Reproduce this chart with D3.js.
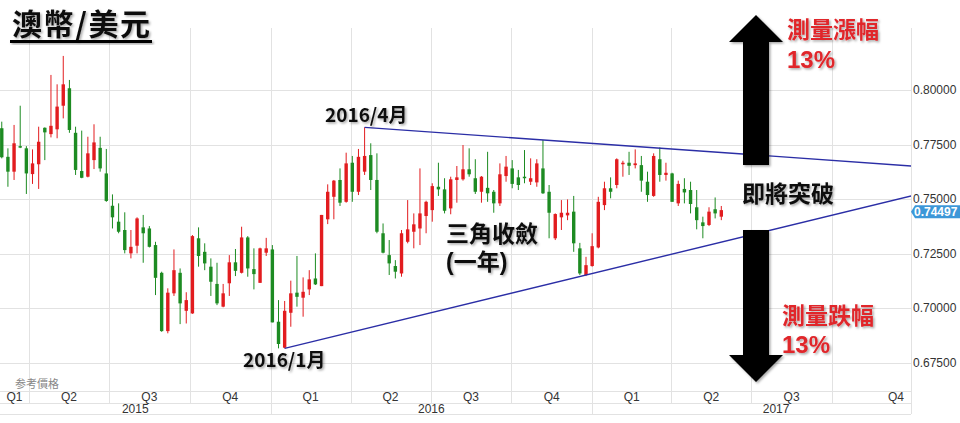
<!DOCTYPE html>
<html>
<head>
<meta charset="utf-8">
<script src="https://cdn.jsdelivr.net/npm/d3@7"></script>
<style>
body { margin: 0; background: #fff; }
text { font-family: "Liberation Sans", Arial, sans-serif; }
.cjk { font-family: "Noto Sans CJK TC", "Noto Sans CJK SC", sans-serif; font-weight: 700; }
.latin { font-family: "Liberation Sans", "Noto Sans CJK TC", sans-serif; font-weight: 700; }
</style>
</head>
<body>
<div id="chart"></div>
<script>
'use strict'

// weekly AUD/USD candles, first week starts 2015-03-01
var firstWeek = new Date(2015, 2, 1);

var openP = [0.7825, 0.7694, 0.7626, 0.7743, 0.7733, 0.7615, 0.7660, 0.7827, 0.7798, 0.7820,
    0.7928, 0.8008, 0.7804, 0.7629, 0.7603, 0.7679, 0.7735, 0.7618, 0.7470, 0.7397,
    0.7359, 0.7252, 0.7287, 0.7371, 0.7366, 0.7290, 0.7163, 0.6896, 0.7069, 0.7163,
    0.6989, 0.6977, 0.7321, 0.7259, 0.7191, 0.7112, 0.7008, 0.7115, 0.7211, 0.7163,
    0.7325, 0.7180, 0.7117, 0.7255, 0.7270, 0.6939, 0.6820, 0.6980, 0.7072, 0.7049,
    0.7087, 0.7137, 0.7102, 0.7408, 0.7511, 0.7588, 0.7488, 0.7667, 0.7534, 0.7626,
    0.7702, 0.7588, 0.7344, 0.7244, 0.7194, 0.7160, 0.7305, 0.7351, 0.7366, 0.7423,
    0.7450, 0.7557, 0.7545, 0.7458, 0.7588, 0.7591, 0.7637, 0.7596, 0.7534, 0.7552,
    0.7534, 0.7481, 0.7606, 0.7641, 0.7600, 0.7603, 0.7580, 0.7577, 0.7641, 0.7534,
    0.7321, 0.7417, 0.7426, 0.7443, 0.7275, 0.7153, 0.7194, 0.7279, 0.7473, 0.7550,
    0.7565, 0.7660, 0.7667, 0.7656, 0.7656, 0.7580, 0.7515, 0.7683, 0.7611, 0.7618,
    0.7481, 0.7547, 0.7542, 0.7463, 0.7394, 0.7382, 0.7454, 0.7420];

var highP = [0.7855, 0.7733, 0.7840, 0.7928, 0.7743, 0.7728, 0.7832, 0.7829, 0.8069, 0.8026,
    0.8156, 0.8046, 0.7832, 0.7814, 0.7786, 0.7843, 0.7786, 0.7730, 0.7522, 0.7481,
    0.7440, 0.7359, 0.7417, 0.7428, 0.7377, 0.7305, 0.7168, 0.7092, 0.7270, 0.7183,
    0.7074, 0.7336, 0.7371, 0.7298, 0.7229, 0.7209, 0.7112, 0.7244, 0.7272, 0.7374,
    0.7331, 0.7275, 0.7278, 0.7323, 0.7290, 0.7038, 0.7034, 0.7127, 0.7240, 0.7142,
    0.7175, 0.7252, 0.7428, 0.7568, 0.7588, 0.7641, 0.7713, 0.7698, 0.7730, 0.7829,
    0.7756, 0.7710, 0.7389, 0.7313, 0.7221, 0.7359, 0.7496, 0.7435, 0.7641, 0.7493,
    0.7573, 0.7667, 0.7596, 0.7603, 0.7652, 0.7748, 0.7733, 0.7683, 0.7606, 0.7717,
    0.7542, 0.7664, 0.7698, 0.7679, 0.7634, 0.7725, 0.7687, 0.7683, 0.7771, 0.7565,
    0.7435, 0.7496, 0.7499, 0.7515, 0.7300, 0.7236, 0.7344, 0.7511, 0.7580, 0.7600,
    0.7687, 0.7676, 0.7717, 0.7728, 0.7698, 0.7626, 0.7710, 0.7737, 0.7667, 0.7621,
    0.7585, 0.7596, 0.7580, 0.7542, 0.7420, 0.7463, 0.7508, 0.7469];

var lowP = [0.7687, 0.7557, 0.7588, 0.7734, 0.7524, 0.7570, 0.7547, 0.7679, 0.7783, 0.7779,
    0.7870, 0.7804, 0.7611, 0.7596, 0.7600, 0.7638, 0.7626, 0.7488, 0.7366, 0.7344,
    0.7252, 0.7229, 0.7252, 0.7209, 0.7279, 0.7061, 0.6893, 0.6886, 0.7057, 0.6928,
    0.6931, 0.6975, 0.7191, 0.7175, 0.7057, 0.7015, 0.7005, 0.7057, 0.7148, 0.7160,
    0.7145, 0.7087, 0.7117, 0.7240, 0.6936, 0.6817, 0.6817, 0.6916, 0.7008, 0.6962,
    0.7061, 0.7107, 0.7102, 0.7386, 0.7408, 0.7469, 0.7484, 0.7488, 0.7519, 0.7611,
    0.7542, 0.7344, 0.7252, 0.7153, 0.7137, 0.7145, 0.7298, 0.7275, 0.7290, 0.7344,
    0.7397, 0.7515, 0.7435, 0.7431, 0.7484, 0.7585, 0.7603, 0.7524, 0.7484, 0.7488,
    0.7438, 0.7469, 0.7580, 0.7550, 0.7542, 0.7573, 0.7565, 0.7557, 0.7524, 0.7321,
    0.7313, 0.7359, 0.7404, 0.7259, 0.7153, 0.7148, 0.7191, 0.7275, 0.7450, 0.7504,
    0.7550, 0.7603, 0.7611, 0.7641, 0.7534, 0.7488, 0.7511, 0.7580, 0.7585, 0.7488,
    0.7469, 0.7481, 0.7435, 0.7362, 0.7321, 0.7377, 0.7412, 0.7404];

var closeP = [0.7692, 0.7626, 0.7756, 0.7737, 0.7618, 0.7664, 0.7763, 0.7806, 0.7836, 0.7924,
    0.8026, 0.7817, 0.7634, 0.7598, 0.7710, 0.7760, 0.7641, 0.7492, 0.7417, 0.7351,
    0.7267, 0.7282, 0.7412, 0.7344, 0.7282, 0.7140, 0.6896, 0.7072, 0.7175, 0.7023,
    0.7038, 0.7331, 0.7240, 0.7206, 0.7122, 0.7023, 0.7069, 0.7211, 0.7172, 0.7325,
    0.7183, 0.7157, 0.7275, 0.7275, 0.6936, 0.6837, 0.6989, 0.7069, 0.7053, 0.7076,
    0.7133, 0.7110, 0.7428, 0.7534, 0.7585, 0.7484, 0.7664, 0.7534, 0.7694, 0.7698,
    0.7588, 0.7351, 0.7255, 0.7206, 0.7168, 0.7344, 0.7362, 0.7385, 0.7435, 0.7488,
    0.7560, 0.7545, 0.7447, 0.7591, 0.7600, 0.7637, 0.7614, 0.7534, 0.7603, 0.7527,
    0.7481, 0.7614, 0.7649, 0.7570, 0.7565, 0.7596, 0.7596, 0.7664, 0.7527, 0.7438,
    0.7432, 0.7438, 0.7438, 0.7298, 0.7160, 0.7198, 0.7285, 0.7488, 0.7550, 0.7534,
    0.7683, 0.7667, 0.7653, 0.7664, 0.7585, 0.7519, 0.7698, 0.7611, 0.7621, 0.7488,
    0.7570, 0.7531, 0.7478, 0.7404, 0.7377, 0.7443, 0.7435, 0.7450];

var lastPrice = 0.74497;
var priceTicks = [0.675, 0.700, 0.725, 0.750, 0.775, 0.800];

// triangle lines: [date, price]
var upperLine = [[new Date(2016, 3, 17), 0.7829], [new Date(2017, 11, 31), 0.7652]];
var lowerLine = [[new Date(2016, 0, 17), 0.6817], [new Date(2017, 11, 31), 0.7516]];

var width = 960;
var height = 423;
var plotRight = 911;
var plotTop = 28;
var plotBottom = 391;
var qBottom = 403;
var yBottom = 414;

var upColor = "#e21c1f";
var downColor = "#1d8b22";
var gridColor = "#e2e2e2";
var noteRed = "#e0262b";

var x = d3.scaleTime()
    .domain([new Date(2015, 3, 1), new Date(2017, 9, 1)])
    .range([29, 832]);
var y = d3.scaleLinear()
    .domain([0.675, 0.800])
    .range([363, 90]);

var weeks = d3.timeSunday.range(firstWeek, new Date(2017, 6, 1)).slice(0, openP.length);
var candles = weeks.map(function(d, i) {
    return {date: d, o: openP[i], h: highP[i], l: lowP[i], c: closeP[i]};
});

var svg = d3.select("#chart").append("svg").attr("width", width).attr("height", height);
var defs = svg.append("defs");

var f = defs.append("filter").attr("id", "shadow").attr("x", "-10%").attr("y", "-20%")
    .attr("width", "130%").attr("height", "160%");
f.append("feDropShadow").attr("dx", 1.5).attr("dy", 1.5).attr("stdDeviation", 1)
    .attr("flood-color", "#000").attr("flood-opacity", 0.35);

defs.append("clipPath").attr("id", "plotClip").append("rect")
    .attr("x", 0).attr("y", 0).attr("width", plotRight).attr("height", plotBottom);

svg.append("rect").attr("width", width).attr("height", height).attr("fill", "#fff");

// grid
var grid = svg.append("g");
var xMin = x.invert(0), xMax = x.invert(plotRight);
var quarters = d3.timeMonth.every(3).range(xMin, xMax);
var years = d3.timeYear.range(xMin, xMax);

grid.selectAll(".hgrid").data(priceTicks).enter().append("line")
    .attr("class", "hgrid")
    .attr("x1", 0).attr("x2", plotRight)
    .attr("y1", function(d) { return Math.round(y(d)) + 0.5; })
    .attr("y2", function(d) { return Math.round(y(d)) + 0.5; })
    .style("stroke", gridColor);

grid.selectAll(".vgrid").data(quarters).enter().append("line")
    .attr("class", "vgrid")
    .attr("x1", function(d) { return Math.round(x(d)) + 0.5; })
    .attr("x2", function(d) { return Math.round(x(d)) + 0.5; })
    .attr("y1", plotTop).attr("y2", qBottom)
    .style("stroke", gridColor);

grid.selectAll(".ygrid").data(years).enter().append("line")
    .attr("class", "ygrid")
    .attr("x1", function(d) { return Math.round(x(d)) + 0.5; })
    .attr("x2", function(d) { return Math.round(x(d)) + 0.5; })
    .attr("y1", qBottom).attr("y2", yBottom)
    .style("stroke", gridColor);

[plotBottom, qBottom, yBottom].forEach(function(yy) {
    grid.append("line").attr("x1", 0).attr("x2", plotRight)
        .attr("y1", yy + 0.5).attr("y2", yy + 0.5).style("stroke", gridColor);
});
grid.append("line").attr("x1", plotRight + 0.5).attr("x2", plotRight + 0.5)
    .attr("y1", plotTop).attr("y2", yBottom).style("stroke", gridColor);

// price axis
svg.selectAll(".ylab").data(priceTicks).enter().append("text")
    .attr("class", "ylab")
    .attr("x", 913)
    .attr("y", function(d) { return y(d) + 4; })
    .style("font-size", "12px").style("fill", "#333")
    .text(d3.format(".5f"));

// quarter and year labels, centred in their visible part (last one runs to the edge)
function visibleMid(start, end) {
    var a = Math.max(0, x(start));
    var b = x(end) >= plotRight ? width : x(end);
    return (a + b) / 2;
}
var allQuarters = d3.timeMonth.every(3).range(d3.timeMonth.every(3).floor(xMin), xMax);
svg.selectAll(".qlab").data(allQuarters).enter().append("text")
    .attr("class", "qlab")
    .attr("x", function(d) { return visibleMid(d, d3.timeMonth.offset(d, 3)); })
    .attr("y", 401)
    .attr("text-anchor", "middle")
    .style("font-size", "12px").style("fill", "#333")
    .text(function(d) { return "Q" + (Math.floor(d.getMonth() / 3) + 1); });

var allYears = d3.timeYear.range(d3.timeYear.floor(xMin), xMax);
svg.selectAll(".yrlab").data(allYears).enter().append("text")
    .attr("class", "yrlab")
    .attr("x", function(d) { return visibleMid(d, d3.timeYear.offset(d, 1)); })
    .attr("y", 413)
    .attr("text-anchor", "middle")
    .style("font-size", "12px").style("fill", "#333")
    .text(d3.timeFormat("%Y"));

svg.append("text").attr("x", 15).attr("y", 388)
    .style("font-size", "11px").style("fill", "#888")
    .attr("class", "cjk").style("font-weight", "400")
    .text("参考價格");

// candles
var plot = svg.append("g").attr("clip-path", "url(#plotClip)");
var bodyW = 3.4;

plot.selectAll(".wick").data(candles).enter().append("line")
    .attr("class", "wick")
    .attr("x1", function(d) { return x(d.date); })
    .attr("x2", function(d) { return x(d.date); })
    .attr("y1", function(d) { return y(d.h); })
    .attr("y2", function(d) { return y(d.l); })
    .style("stroke", function(d) { return d.c >= d.o ? upColor : downColor; })
    .style("stroke-width", 1);

plot.selectAll(".body").data(candles).enter().append("rect")
    .attr("class", "body")
    .attr("x", function(d) { return x(d.date) - bodyW / 2; })
    .attr("y", function(d) { return y(Math.max(d.o, d.c)); })
    .attr("width", bodyW)
    .attr("height", function(d) { return Math.max(1.5, Math.abs(y(d.o) - y(d.c))); })
    .style("fill", function(d) { return d.c >= d.o ? upColor : downColor; });

// triangle
var line = d3.line().x(function(d) { return x(d[0]); }).y(function(d) { return y(d[1]); });
[upperLine, lowerLine].forEach(function(pts) {
    plot.append("path").attr("d", line(pts))
        .style("fill", "none").style("stroke", "#2b2ea6").style("stroke-width", 1.4);
});

// last price tag
var ty = y(lastPrice);
svg.append("path")
    .attr("d", "M" + plotRight + "," + (ty + 1.5) + "L915," + (ty - 5) + "L960," + (ty - 5) + "L960," + (ty + 8) + "L915," + (ty + 8) + "Z")
    .style("fill", "#3d97d8");
svg.append("text").attr("x", 914).attr("y", ty + 6)
    .style("font-size", "12px").style("font-weight", "700").style("fill", "#fff")
    .text(d3.format(".5f")(lastPrice));

// arrows
var arrows = svg.append("g").attr("filter", "url(#shadow)");
arrows.append("path")
    .attr("d", "M756,15L783,42L769,42L769,165L743,165L743,42L729,42Z")
    .style("fill", "#000");
arrows.append("path")
    .attr("d", "M743,230L769,230L769,355L783,355L756,382L729,355L743,355Z")
    .style("fill", "#000");

// annotations
function note(txt, px, py, size, color, cls) {
    return svg.append("text").attr("class", cls || "cjk")
        .attr("x", px).attr("y", py)
        .attr("filter", "url(#shadow)")
        .style("font-size", size + "px")
        .style("fill", color || "#111")
        .text(txt);
}

note("澳幣/美元", 12, 35, 30)
    .attr("textLength", 138).attr("lengthAdjust", "spacing");
svg.append("rect").attr("x", 10).attr("y", 40).attr("width", 142).attr("height", 3)
    .attr("filter", "url(#shadow)")
    .style("fill", "#000");

note("2016/4月", 325, 122, 19);
note("2016/1月", 243, 367, 19);
note("三角收斂", 446, 242, 23);
note("(一年)", 446, 270, 23, "#111", "latin");
note("即將突破", 742, 202, 23);
note("測量漲幅", 787, 38, 23, noteRed);
note("13%", 787, 68, 24, noteRed, "latin");
note("測量跌幅", 782, 324, 23, noteRed);
note("13%", 782, 353, 24, noteRed, "latin");
</script>
</body>
</html>
